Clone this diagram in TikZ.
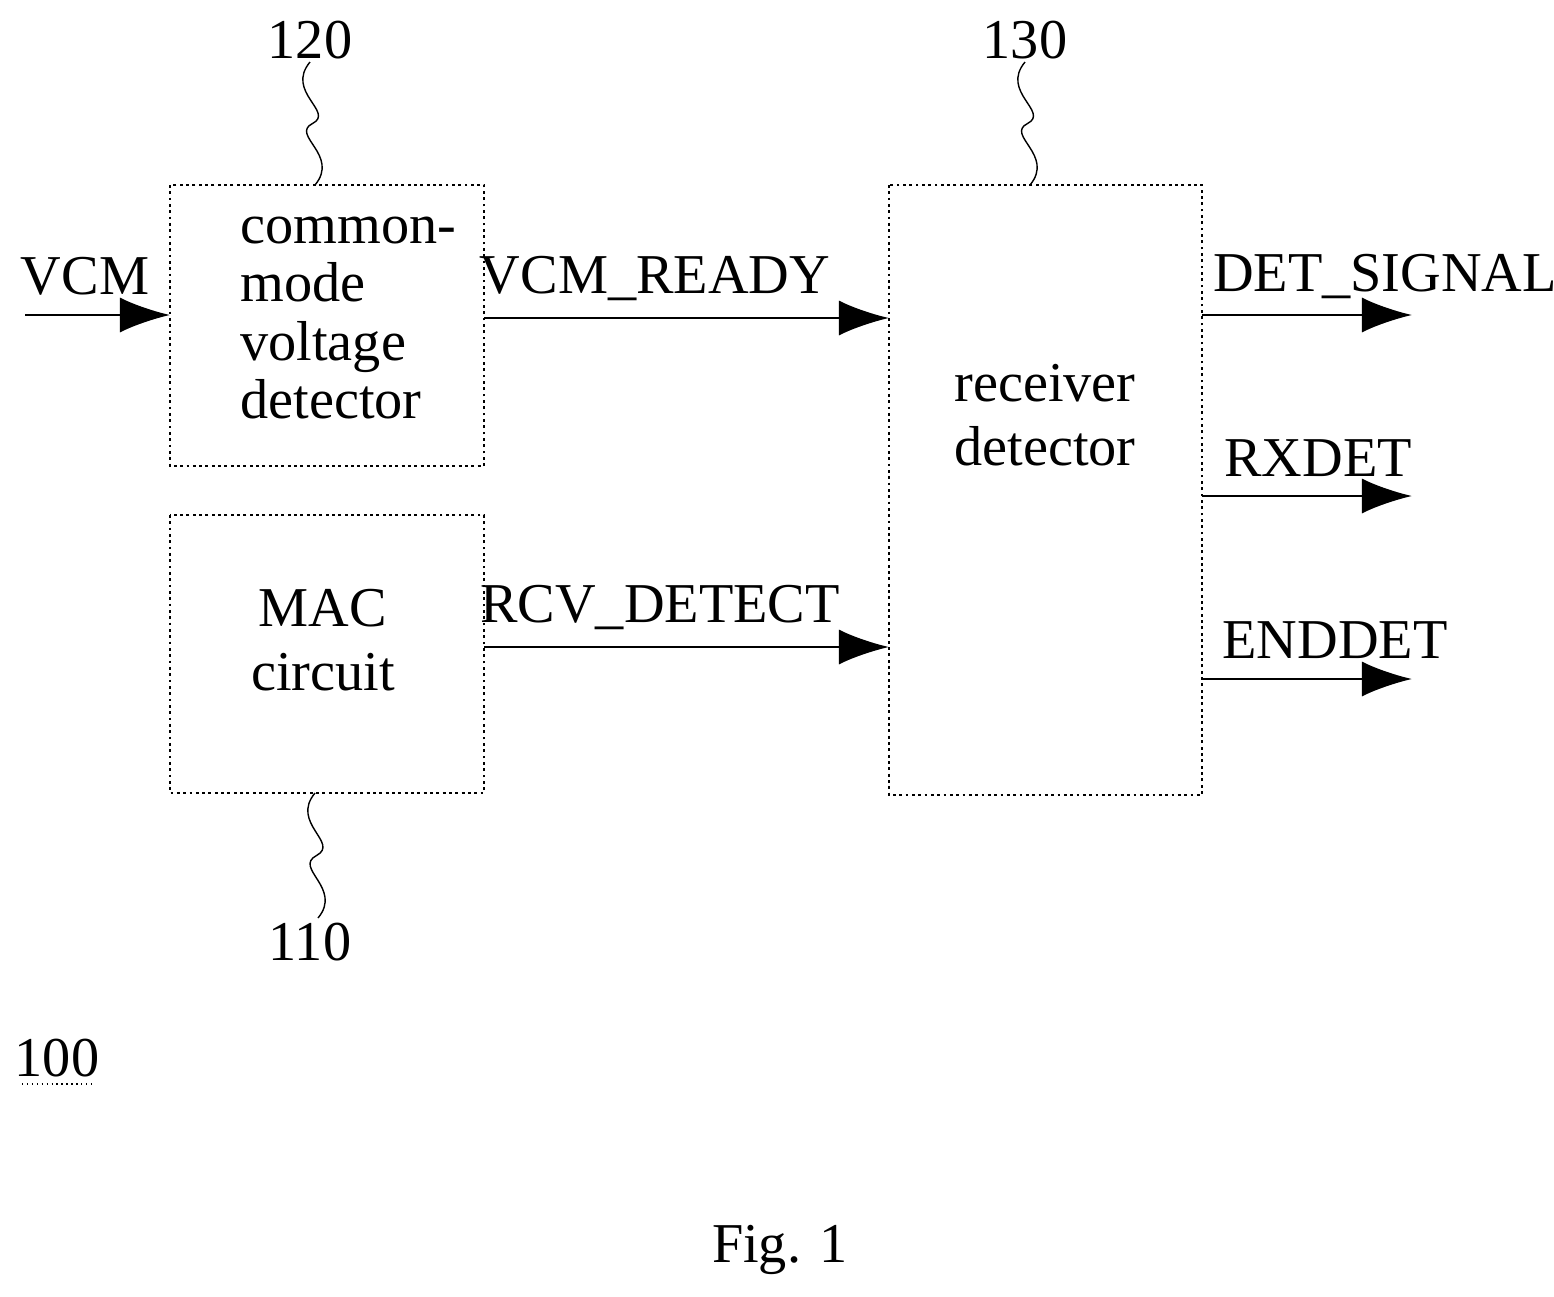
\documentclass[tikz,border=0pt]{standalone}
\usepackage{fontspec}
\setmainfont{Liberation Serif}
\usetikzlibrary{arrows.meta}
\tikzstyle{blk}=[draw, thick, densely dotted, inner sep=0pt]
\tikzstyle{sig}=[thick, -{Latex[length=5mm,width=3.5mm]}]
\tikzstyle{lbl}=[font=\fontsize{16}{18}\selectfont]
\newcommand{\leadwave}[2]{
\draw[thin] (#1) .. controls ($(#1)+(-25,30)$) and ($(#1)+(25,50)$) .. ($(#1)!.5!(#2)$)
 .. controls ($(#2)+(-25,-50)$) and ($(#2)+(25,-30)$) .. (#2);
}
\usetikzlibrary{calc}

\begin{document}
\begin{tikzpicture}[x=0.01cm,y=-0.01cm]
\useasboundingbox (0,0) rectangle (1554,1296);
% blocks
\draw[blk] (170,185) rectangle (484,466);
\draw[blk] (170,515) rectangle (484,793);
\draw[blk] (889,185) rectangle (1202,795);
\node[lbl, anchor=north west, align=left, font=\fontsize{16}{16.5}\selectfont] (cmvd) at (228,205) {common-\\mode\\voltage\\detector};
\node[lbl, align=center] (mac) at (323,640) {MAC\\circuit};
\node[lbl, align=center] (rd) at (1045,415) {receiver\\detector};
% coordinates
\coordinate (vin) at (25,315);
\coordinate (cmo) at (484,318);
\coordinate (rdi1) at (889,318);
\coordinate (maco) at (484,647);
\coordinate (rdi2) at (889,647);
\coordinate (cmi) at (170,315);
\foreach \n/\y in {o1/315,o2/496,o3/679} {
  \coordinate (s\n) at (1202,\y);
  \coordinate (e\n) at (1412,\y);
}
% signals
\draw[sig] (vin) -- (cmi);
\draw[sig] (cmo) -- (rdi1);
\draw[sig] (maco) -- (rdi2);
\draw[sig] (so1) -- (eo1);
\draw[sig] (so2) -- (eo2);
\draw[sig] (so3) -- (eo3);
\node[lbl] (lvcm) at (85,276) {VCM};
\node[lbl] (lrdy) at (655,278) {VCM\_READY};
\node[lbl] (lrcv) at (660,607) {RCV\_DETECT};
\node[lbl] (ldet) at (1385,276) {DET\_SIGNAL};
\node[lbl] (lrx) at (1318,458) {RXDET};
\node[lbl] (lend) at (1335,640) {ENDDET};
% reference numerals
\node[lbl] (n120) at (310,40) {120};
\node[lbl] (n130) at (1025,40) {130};
\node[lbl] (n110) at (310,942) {110};
\coordinate (w120a) at (310,62);
\coordinate (w120b) at (315,185);
\coordinate (w130a) at (1025,62);
\coordinate (w130b) at (1030,185);
\coordinate (w110a) at (315,793);
\coordinate (w110b) at (318,918);
\leadwave{w120a}{w120b}
\leadwave{w130a}{w130b}
\leadwave{w110a}{w110b}
\node[lbl] (n100) at (57,1058) {100};
\draw[thin, densely dotted] (22,1084) -- (94,1084);
\node[lbl] (fig) at (780,1250) {Fig. 1};
\end{tikzpicture}
\end{document}
